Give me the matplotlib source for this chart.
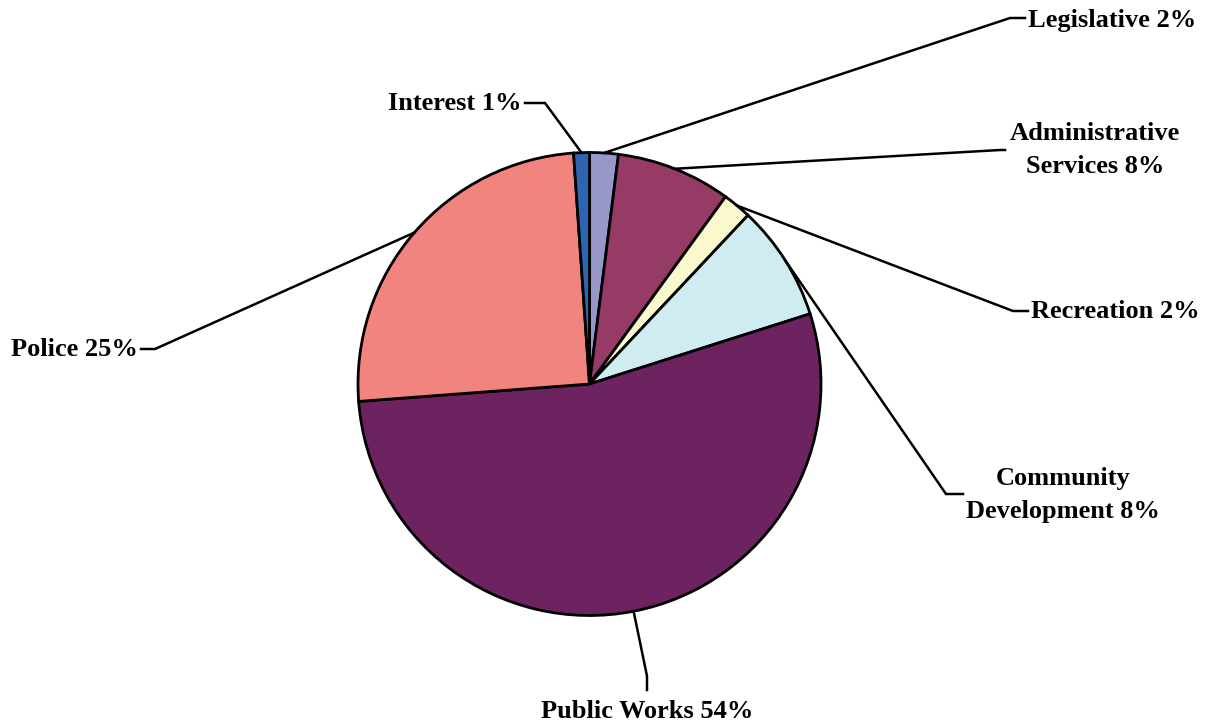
import matplotlib
matplotlib.use("Agg")
import matplotlib.pyplot as plt
import numpy as np

# Data
categories = ["Legislative", "Administrative\nServices", "Recreation", "Community\nDevelopment",
              "Public Works", "Police", "Interest"]
values = [2.0, 8.0, 2.0, 8.1, 53.7, 25.1, 1.1]
pct_labels = ["2%", "8%", "2%", "8%", "54%", "25%", "1%"]
colors = ["#9898C8", "#963A66", "#FAF8CD", "#CFECF0", "#6C2360", "#F28480", "#2E64B0"]

W, H = 1212, 725
fig = plt.figure(figsize=(W / 100, H / 100), dpi=100)
ax = fig.add_axes([0, 0, 1, 1])
ax.set_xlim(0, W)
ax.set_ylim(0, H)
ax.set_aspect("equal")
ax.axis("off")

cx, cy, r = 589.5, H - 384, 231.5
wedges, _ = ax.pie(values, colors=colors, startangle=90, counterclock=False,
                   center=(cx, cy), radius=r, frame=True,
                   wedgeprops=dict(edgecolor="black", linewidth=2))
ax.set_xlim(0, W)
ax.set_ylim(0, H)
ax.axis("off")

# Layout for labels: elbow point, line end point, text anchor, alignment (pixel coords, top-down)
layout = [
    ((1010, 18), (1025, 18), (1028, 20), "left"),
    ((1000, 150), (1005, 150), (1095, 150), "center"),
    ((1013, 311), (1028, 311), (1031, 311), "left"),
    ((946, 494), (963, 494), (1063, 495), "center"),
    ((647, 676), (647, 690), (647, 712), "center"),
    ((155, 349), (141, 349), (138, 349), "right"),
    ((545, 103), (525, 103), (521, 103), "right"),
]

total = sum(values)
cum = 0.0
for i, v in enumerate(values):
    mid = (cum + v / 2) / total
    cum += v
    ang = np.deg2rad(90 - 360 * mid)
    sx, sy = cx + r * np.cos(ang), cy + r * np.sin(ang)
    (ex, ey), (lx, ly), (tx, ty), ha = layout[i]
    ax.plot([sx, ex, lx], [sy, H - ey, H - ly], color="black", lw=1.8,
            solid_joinstyle="miter", zorder=5)
    label = f"{categories[i]} {pct_labels[i]}"
    ax.text(tx, H - ty, label, ha=ha, va="center", ma="center",
            fontsize=19, fontweight="bold", family="Liberation Serif",
            linespacing=1.55, zorder=6)

fig.savefig("out.png", dpi=100)
